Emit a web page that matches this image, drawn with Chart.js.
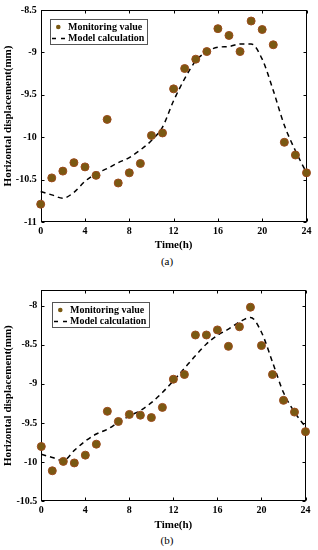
<!DOCTYPE html>
<html>
<head>
<meta charset="utf-8">
<script src="https://cdn.jsdelivr.net/npm/chart.js@4.4.0/dist/chart.umd.min.js"></script>
<style>
	body { margin: 0; background: #fff; width: 318px; height: 550px; position: relative; overflow: hidden; }
	.caja { position: absolute; left: 0; width: 318px; height: 252px; }
	.rotulo { position: absolute; width: 40px; text-align: center; font: 11px/12px "Liberation Serif", serif; color: #000; }
</style>
</head>
<body>
<div class="caja" style="top:0"><canvas id="chartA" width="318" height="252"></canvas></div>
<div class="rotulo" style="left:147px;top:254.7px">(a)</div>
<div class="caja" style="top:280px"><canvas id="chartB" width="318" height="252"></canvas></div>
<div class="rotulo" style="left:147px;top:534px">(b)</div>

<script>
/* Datos */
const horas = [0, 1, 2, 3, 4, 5, 6, 7, 8, 9, 10, 11, 12, 13, 14, 15, 16, 17, 18, 19, 20, 21, 22, 23, 24];

// (a)
const monitoreoA = [-10.79, -10.48, -10.40, -10.30, -10.35, -10.45, -9.79, -10.54, -10.42, -10.31, -9.98, -9.95, -9.43,
	-9.19, -9.08, -8.99, -8.72, -8.80, -8.99, -8.63, -8.73, -8.91, -10.06, -10.21, -10.42];
const modeloA = [-10.64, -10.68, -10.72, -10.65, -10.52, -10.43, -10.37, -10.30, -10.24, -10.15, -10.04, -9.88, -9.57,
	-9.31, -9.10, -8.99, -8.94, -8.93, -8.90, -8.90, -9.08, -9.45, -9.86, -10.16, -10.42];
const ticksYA = [-11, -10.5, -10, -9.5, -9, -8.5];

// (b)
const monitoreoB = [-9.80, -10.11, -9.99, -10.01, -9.91, -9.77, -9.35, -9.48, -9.39, -9.40, -9.43, -9.30, -8.94,
	-8.88, -8.375, -8.375, -8.31, -8.52, -8.27, -8.02, -8.51, -8.88, -9.21, -9.36, -9.61];
const modeloB = [-9.90, -9.94, -9.98, -9.85, -9.73, -9.64, -9.58, -9.49, -9.41, -9.34, -9.24, -9.11, -8.96,
	-8.80, -8.64, -8.49, -8.38, -8.30, -8.21, -8.15, -8.34, -8.72, -9.11, -9.36, -9.55];
const ticksYB = [-10.5, -10, -9.5, -9, -8.5, -8];

const ticksX = [0, 4, 8, 12, 16, 20, 24];
const etiquetas = ["Monitoring value", "Model calculation"];

Chart.defaults.font.family = '"Liberation Serif", "Times New Roman", serif';
Chart.defaults.color = "#000";

/* Marco con marcas hacia dentro, estilo MATLAB */
const marco = {
	id: "marco",
	beforeDatasetsDraw(chart) {
		const { ctx, chartArea: a, scales } = chart;
		const L = Math.round(a.left) + 0.5, R = Math.round(a.right) - 0.5;
		const T = Math.round(a.top) + 0.5, B = Math.round(a.bottom) - 0.5;
		ctx.save();
		ctx.strokeStyle = "#000";
		ctx.lineWidth = 1;
		ctx.strokeRect(L, T, R - L, B - T);
		ctx.beginPath();
		scales.x.ticks.forEach((t) => {
			const px = Math.round(scales.x.getPixelForValue(t.value)) + 0.5;
			ctx.moveTo(px, B); ctx.lineTo(px, B - 3);
			ctx.moveTo(px, T); ctx.lineTo(px, T + 3);
		});
		scales.y.ticks.forEach((t) => {
			const py = Math.round(scales.y.getPixelForValue(t.value)) + 0.5;
			ctx.moveTo(L, py); ctx.lineTo(L + 3, py);
			ctx.moveTo(R, py); ctx.lineTo(R - 3, py);
		});
		ctx.stroke();
		ctx.restore();
	},
};

/* Leyenda dibujada dentro del area */
const leyenda = {
	id: "leyenda",
	afterDraw(chart, args, opts) {
		const { ctx, chartArea: a } = chart;
		const ds = chart.data.datasets;
		const x = Math.round(a.left + opts.dx), y = Math.round(a.top + opts.dy);
		const w = 97, h = 25;
		ctx.save();
		ctx.fillStyle = "#fff";
		ctx.fillRect(x, y, w, h);
		ctx.strokeStyle = "#555";
		ctx.lineWidth = 1;
		ctx.strokeRect(x + 0.5, y + 0.5, w, h);
		ctx.fillStyle = ds[0].backgroundColor;
		ctx.beginPath();
		ctx.arc(x + 8.3, y + 8, 2.3, 0, 2 * Math.PI);
		ctx.fill();
		ctx.strokeStyle = "#000";
		ctx.lineWidth = 1.4;
		ctx.setLineDash([4, 5]);
		ctx.beginPath();
		ctx.moveTo(x + 2, y + 19.5);
		ctx.lineTo(x + 15.5, y + 19.5);
		ctx.stroke();
		ctx.setLineDash([]);
		ctx.fillStyle = "#000";
		ctx.font = 'bold 10px "Liberation Serif"';
		ctx.textBaseline = "middle";
		ctx.fillText(ds[0].label, x + 18, y + 8.5);
		ctx.fillText(ds[1].label, x + 18, y + 19.8);
		ctx.restore();
	},
};

function crearGrafica(id, monitoreo, modelo, yMin, yMax, ticksY, relleno, anchoY, dx, dy) {
	const ctx = document.getElementById(id).getContext("2d");
	return new Chart(ctx, {
		data: {
			datasets: [
				{
					type: "scatter",
					label: etiquetas[0],
					data: horas.map((h, i) => ({ x: h, y: monitoreo[i] })),
					backgroundColor: "#7a5912",
					borderColor: "#9c4a1c",
					borderWidth: 1,
					pointRadius: 4,
					clip: false,
				},
				{
					type: "line",
					label: etiquetas[1],
					data: horas.map((h, i) => ({ x: h, y: modelo[i] })),
					borderColor: "#000",
					borderWidth: 1.5,
					borderDash: [5, 4],
					pointRadius: 0,
					cubicInterpolationMode: "monotone",
					fill: false,
					clip: false,
				},
			],
		},
		options: {
			responsive: false,
			animation: false,
			layout: { padding: relleno },
			plugins: {
				legend: { display: false },
				tooltip: { enabled: false },
				leyenda: { dx: dx, dy: dy },
			},
			scales: {
				x: {
					type: "linear",
					min: 0,
					max: 24,
					afterBuildTicks: (s) => { s.ticks = ticksX.map((v) => ({ value: v })); },
					afterFit: (s) => { s.height = 30; },
					grid: { display: false, drawTicks: false },
					border: { display: false },
					ticks: { font: { size: 10, weight: "bold" }, padding: 3, maxRotation: 0, color: "#000", callback: (v) => String(v) },
					title: { display: true, text: "Time(h)", font: { size: 11, weight: "bold" }, padding: 0, color: "#000" },
				},
				y: {
					min: yMin,
					max: yMax,
					afterBuildTicks: (s) => { s.ticks = ticksY.map((v) => ({ value: v })); },
					afterFit: (s) => { s.width = anchoY; },
					grid: { display: false, drawTicks: false },
					border: { display: false },
					ticks: { font: { size: 10, weight: "bold" }, padding: 4, color: "#000", callback: (v) => String(v) },
					title: { display: true, text: "Horizontal displacement(mm)", font: { size: 11, weight: "bold" }, padding: 0, color: "#000" },
				},
			},
		},
		plugins: [marco, leyenda],
	});
}

crearGrafica("chartA", monitoreoA, modeloA, -11, -8.5, ticksYA,
	{ left: 1.4, top: 9, right: 11.5, bottom: 0 }, 39.3, 9.3, 9);
crearGrafica("chartB", monitoreoB, modeloB, -10.5, -7.8, ticksYB,
	{ left: 1.4, top: 8.8, right: 12.5, bottom: 0.7 }, 39.9, 10.4, 11.9);
</script>
</body>
</html>
